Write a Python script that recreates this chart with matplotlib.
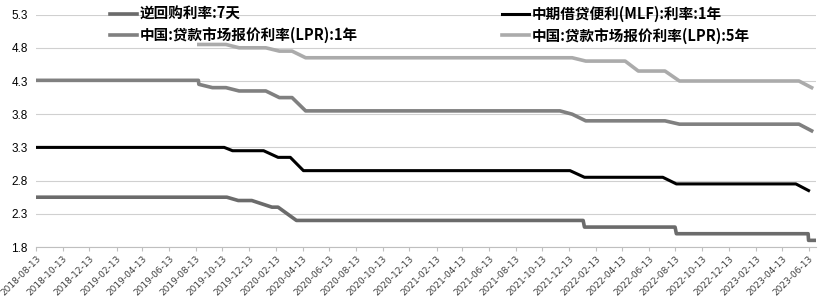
import numpy as np
import pandas as pd
import matplotlib
matplotlib.use("Agg")
import matplotlib.pyplot as plt
import matplotlib.dates as mdates
from matplotlib.lines import Line2D

plt.rcParams['font.family'] = ['Noto Sans CJK SC', 'DejaVu Sans']

# 逆回购利率:7天 (daily, only the turning points)
repo_dates = ["2018-08-13", "2019-10-23", "2019-11-18", "2019-12-19", "2020-02-03",
              "2020-02-17", "2020-03-30", "2022-01-14", "2022-01-17", "2022-08-12",
              "2022-08-15", "2023-06-12", "2023-06-13", "2023-06-27"]
repo_vals = [2.55, 2.55, 2.50, 2.50, 2.40, 2.40, 2.20, 2.20, 2.10, 2.10, 2.00, 2.00, 1.90, 1.90]

# 中期借贷便利(MLF):利率:1年
mlf_dates = ["2018-08-13", "2019-10-17", "2019-11-05", "2020-01-15", "2020-02-17",
             "2020-03-16", "2020-04-15", "2021-12-15", "2022-01-17", "2022-07-15",
             "2022-08-15", "2023-05-15", "2023-06-13"]
mlf_vals = [3.30, 3.30, 3.25, 3.25, 3.15, 3.15, 2.95, 2.95, 2.85, 2.85, 2.75, 2.75, 2.65]

# 中国:贷款市场报价利率(LPR):1年
lpr1_dates = ["2018-08-13", "2019-08-19", "2019-08-20", "2019-09-20", "2019-10-21",
              "2019-11-20", "2020-01-20", "2020-02-20", "2020-03-20", "2020-04-20",
              "2021-11-22", "2021-12-20", "2022-01-20", "2022-07-20", "2022-08-22",
              "2023-05-22", "2023-06-20"]
lpr1_vals = [4.31, 4.31, 4.25, 4.20, 4.20, 4.15, 4.15, 4.05, 4.05, 3.85,
             3.85, 3.80, 3.70, 3.70, 3.65, 3.65, 3.55]

# 中国:贷款市场报价利率(LPR):5年
lpr5_dates = ["2019-08-20", "2019-10-21", "2019-11-20", "2020-01-20", "2020-02-20",
              "2020-03-20", "2020-04-20", "2021-12-20", "2022-01-20", "2022-04-20",
              "2022-05-20", "2022-07-20", "2022-08-22", "2023-05-22", "2023-06-20"]
lpr5_vals = [4.85, 4.85, 4.80, 4.80, 4.75, 4.75, 4.65, 4.65, 4.60, 4.60,
             4.45, 4.45, 4.30, 4.30, 4.20]

labels = ["逆回购利率:7天", "中期借贷便利(MLF):利率:1年",
          "中国:贷款市场报价利率(LPR):1年", "中国:贷款市场报价利率(LPR):5年"]
colors = ["#6b6b6b", "#000000", "#808080", "#ababab"]
widths = [2.6, 2.2, 2.6, 2.6]

yticks = [1.8, 2.3, 2.8, 3.3, 3.8, 4.3, 4.8, 5.3]

fig = plt.figure(figsize=(8.27, 2.96), dpi=100)
ax = fig.add_axes([36 / 827, 49 / 296, 780 / 827, 232.4 / 296])

series = [(repo_dates, repo_vals), (mlf_dates, mlf_vals),
          (lpr1_dates, lpr1_vals), (lpr5_dates, lpr5_vals)]
for (d, v), c, w in zip(series, colors, widths):
    ax.plot(pd.to_datetime(d), v, color=c, lw=w, solid_joinstyle='round', zorder=3)

ax.set_ylim(1.8, 5.3)
ax.set_yticks(yticks)
ax.set_yticklabels([f"{t:.1f}" for t in yticks], family='Liberation Sans', fontsize=8.5)
ax.set_xlim(pd.Timestamp("2018-08-13"), pd.Timestamp("2023-06-30"))
xt = pd.date_range("2018-08-13", "2023-06-13", freq=pd.DateOffset(months=2))
ax.set_xticks(xt)
ax.set_xticklabels([t.strftime("%Y-%m-%d") for t in xt], rotation=45, ha='right',
                   rotation_mode='anchor', fontsize=6.5, color='#404040',
                   family='DejaVu Sans')

ax.grid(axis='y', color='#d0d0d0', lw=0.8)
ax.set_axisbelow(True)
for s in ['top', 'right', 'left']:
    ax.spines[s].set_visible(False)
ax.spines['bottom'].set_color('#bfbfbf')
ax.spines['bottom'].set_linewidth(0.8)
ax.tick_params(axis='y', length=0, pad=6)
ax.tick_params(axis='x', length=3, color='#bfbfbf', pad=2)

def make_handles(idx):
    return [Line2D([], [], color=colors[i], lw=widths[i]) for i in idx]

leg_kw = dict(frameon=False, ncol=1, handlelength=1.85, handletextpad=0.2,
              labelspacing=0.35, borderpad=0, borderaxespad=0,
              prop={'size': 10.5, 'weight': 'bold'}, loc='upper left')
leg1 = fig.legend(make_handles([0, 2]), [labels[0], labels[2]],
                  bbox_to_anchor=(110 / 827, 1 - 6 / 296), **leg_kw)
leg2 = fig.legend(make_handles([1, 3]), [labels[1], labels[3]],
                  bbox_to_anchor=(502 / 827, 1 - 6 / 296), **leg_kw)

fig.savefig("out.png", dpi=100)
